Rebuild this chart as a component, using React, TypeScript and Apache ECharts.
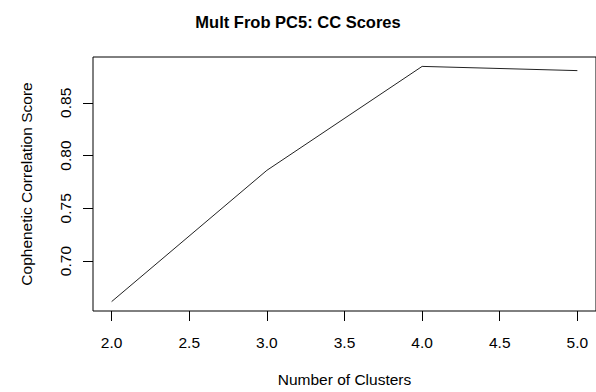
import React, { useEffect, useRef } from "react";
import * as echarts from "echarts";

const clusters = [2, 3, 4, 5];
const ccScores = [0.6616, 0.786, 0.8845, 0.8805];
const xTicks = [2.0, 2.5, 3.0, 3.5, 4.0, 4.5, 5.0];
const yTicks = [0.7, 0.75, 0.8, 0.85];

const titleText = "Mult Frob PC5: CC Scores";
const xName = "Number of Clusters";
const yName = "Cophenetic Correlation Score";

export default function App() {
  const ref = useRef<HTMLDivElement>(null);
  useEffect(() => {
    document.body.style.margin = "0";
    const chart = echarts.init(ref.current!, null, { renderer: "svg" });
    const font = "Liberation Sans, Arial, Helvetica, sans-serif";
    chart.setOption({
      animation: false,
      backgroundColor: "#ffffff",
      title: {
        text: titleText,
        left: "center",
        top: 8,
        textStyle: { fontFamily: font, fontSize: 16.5, fontWeight: "bold", color: "#000" },
      },
      grid: {
        left: 93,
        top: 57,
        right: -5,
        bottom: 392 - 313,
        show: true,
        borderColor: "#000",
        borderWidth: 1,
        backgroundColor: "transparent",
      },
      xAxis: {
        type: "value",
        min: 1.88,
        max: 5.12,
        name: xName,
        nameLocation: "middle",
        nameGap: 60,
        nameTextStyle: { fontFamily: font, fontSize: 15.5, color: "#000" },
        axisLine: { show: false },
        splitLine: { show: false },
        axisTick: {
          show: true,
          length: 10,
          inside: false,
          customValues: xTicks,
          lineStyle: { color: "#000", width: 1 },
        },
        axisLabel: {
          customValues: xTicks,
          margin: 23,
          fontFamily: font,
          fontSize: 15.5,
          color: "#000",
          formatter: (v: number) => v.toFixed(1),
        },
      },
      yAxis: {
        type: "value",
        min: 0.6527,
        max: 0.8934,
        name: yName,
        nameLocation: "middle",
        nameGap: 59,
        nameTextStyle: { fontFamily: font, fontSize: 15.5, color: "#000" },
        axisLine: { show: false },
        splitLine: { show: false },
        axisTick: {
          show: true,
          length: 10,
          inside: false,
          customValues: yTicks,
          lineStyle: { color: "#000", width: 1 },
        },
        axisLabel: {
          customValues: yTicks,
          rotate: 90,
          margin: 20,
          fontFamily: font,
          fontSize: 15.5,
          color: "#000",
          formatter: (v: number) => v.toFixed(2),
        },
      },
      series: [
        {
          type: "line",
          data: clusters.map((c, i) => [c, ccScores[i]]),
          showSymbol: false,
          symbol: "none",
          lineStyle: { color: "#222", width: 1 },
        },
      ],
    });
    return () => chart.dispose();
  }, []);
  return <div ref={ref} style={{ width: 596, height: 392 }} />;
}
